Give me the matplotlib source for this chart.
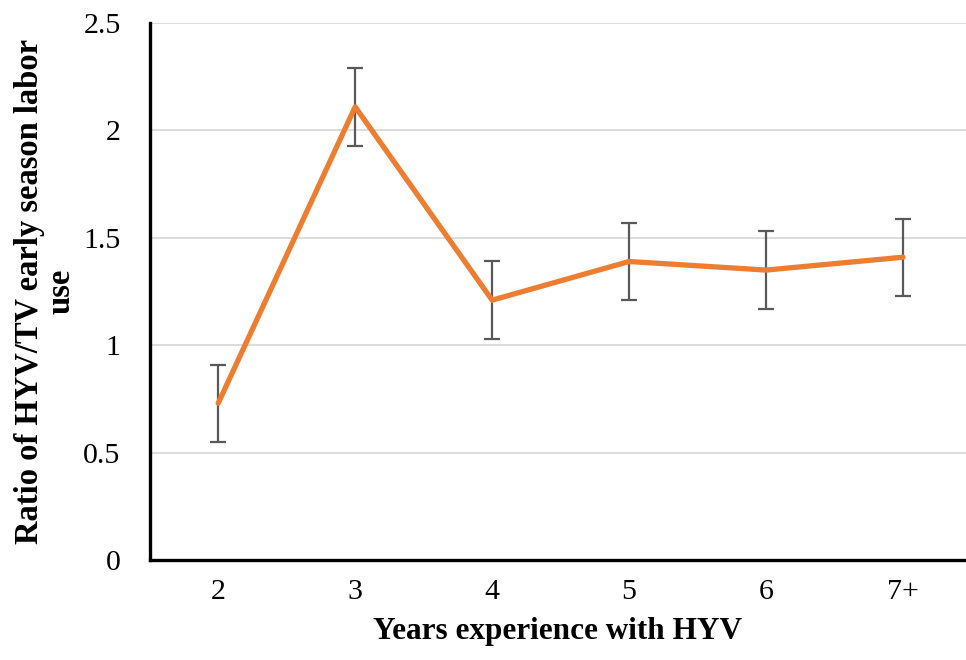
import matplotlib.pyplot as plt
import numpy as np

# Data
years = ['2', '3', '4', '5', '6', '7+']
ratio = [0.73, 2.11, 1.21, 1.39, 1.35, 1.41]
err = [0.18, 0.18, 0.18, 0.18, 0.18, 0.18]

plt.rcParams['font.family'] = ['Liberation Serif', 'DejaVu Serif']

fig = plt.figure(figsize=(9.66, 6.6), dpi=100)
ax = fig.add_axes([0.155, 0.1515, 0.845, 0.8135])

x = np.arange(len(years))
ax.errorbar(x, ratio, yerr=err, color='#ED7D31', linewidth=3.8,
            ecolor='#595959', elinewidth=1.6, capsize=6, capthick=1.6,
            zorder=3, solid_capstyle='round')

ax.set_xticks(x)
ax.set_xticklabels(years)
ax.set_xlim(-0.5, 5.46)
ax.set_ylim(0, 2.5)
ax.set_yticks([0, 0.5, 1, 1.5, 2, 2.5])
ax.set_yticklabels(['0', '0.5', '1', '1.5', '2', '2.5'])
ax.tick_params(length=0, labelsize=21.5)
ax.tick_params(axis='x', pad=14)
ax.tick_params(axis='y', pad=21)

ax.grid(axis='y', color='#D9D9D9', linewidth=1.3)
ax.set_axisbelow(True)
for s in ['top', 'right']:
    ax.spines[s].set_visible(False)
for s in ['left', 'bottom']:
    ax.spines[s].set_linewidth(2.4)

ax.set_xlabel('Years experience with HYV', fontsize=22.5, fontweight='bold', labelpad=8)
ax.set_ylabel('Ratio of HYV/TV early season labor\nuse', fontsize=23.5,
              fontweight='bold', linespacing=1.0)
ax.yaxis.set_label_coords(-0.09, 0.5)

fig.savefig('out.png', dpi=100)
